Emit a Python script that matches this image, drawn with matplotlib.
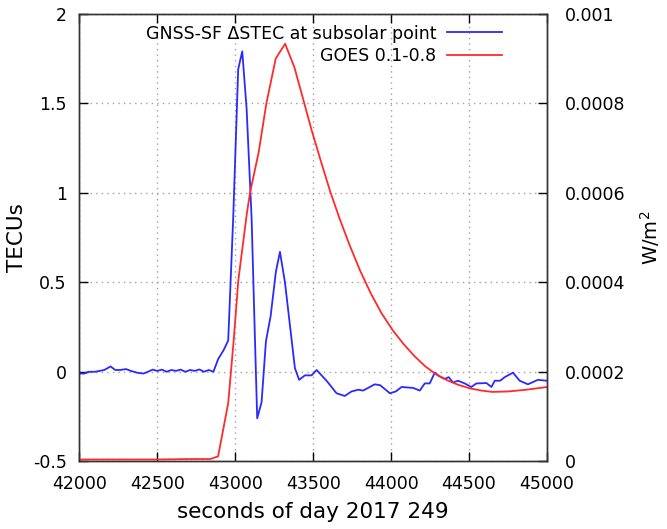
import matplotlib
matplotlib.use("Agg")
import matplotlib.pyplot as plt

# GNSS-SF delta STEC at the subsolar point (TECU)
stec_t = [42000, 42030, 42060, 42100, 42130, 42160, 42200, 42230, 42260, 42300,
          42330, 42370, 42410, 42440, 42470, 42500, 42530, 42560, 42590, 42620,
          42650, 42680, 42710, 42740, 42770, 42800, 42830, 42860, 42890, 42925,
          42955, 42987, 43019, 43045, 43073, 43105, 43126, 43141, 43169, 43197,
          43227, 43261, 43287, 43319, 43383, 43410, 43447, 43490, 43522, 43586,
          43650, 43703, 43746, 43790, 43820, 43853, 43895, 43930, 43992, 44030,
          44067, 44141, 44184, 44216, 44248, 44280, 44310, 44344, 44370, 44397,
          44430, 44472, 44515, 44547, 44612, 44644, 44665, 44700, 44729, 44782,
          44825, 44878, 44942, 45000]
stec_v = [-0.01, -0.01, 0.0, 0.0, 0.005, 0.01, 0.03, 0.01, 0.01, 0.015,
          0.005, -0.005, -0.01, 0.0, 0.012, 0.005, 0.012, 0.0, 0.01, 0.005,
          0.012, 0.0, 0.01, 0.005, 0.013, 0.0, 0.01, 0.0, 0.07, 0.12,
          0.175, 0.86, 1.69, 1.79, 1.47, 0.86, 0.2, -0.26, -0.17, 0.17,
          0.31, 0.56, 0.67, 0.50, 0.02, -0.045, -0.02, -0.02, 0.01, -0.05,
          -0.12, -0.135, -0.11, -0.1, -0.105, -0.09, -0.07, -0.075, -0.12, -0.11,
          -0.085, -0.09, -0.105, -0.065, -0.065, -0.005, -0.025, -0.04, -0.03, -0.06,
          -0.05, -0.065, -0.085, -0.065, -0.063, -0.085, -0.05, -0.05, -0.03, -0.005,
          -0.05, -0.07, -0.045, -0.05]

# GOES X-ray flux 0.1-0.8 nm (W/m^2)
goes_t = [42000, 42500, 42700, 42840, 42890, 42955, 42990, 43020, 43075, 43095,
          43150, 43200, 43260, 43320, 43380, 43425, 43490, 43550, 43610, 43670,
          43735, 43800, 43870, 43940, 44010, 44080, 44150, 44220, 44290, 44360,
          44430, 44505, 44580, 44650, 44750, 44870, 45000]
goes_w = [4e-6, 4e-6, 5e-6, 5e-6, 1.1e-5, 1.3e-4, 2.7e-4, 4.05e-4, 5.55e-4, 6.0e-4,
          6.9e-4, 8.0e-4, 9.0e-4, 9.33e-4, 8.8e-4, 8.23e-4, 7.4e-4, 6.7e-4, 6.02e-4, 5.42e-4,
          4.82e-4, 4.27e-4, 3.75e-4, 3.3e-4, 2.93e-4, 2.62e-4, 2.35e-4, 2.12e-4, 1.94e-4, 1.81e-4,
          1.71e-4, 1.63e-4, 1.58e-4, 1.55e-4, 1.56e-4, 1.6e-4, 1.66e-4]

xticks = [42000, 42500, 43000, 43500, 44000, 44500, 45000]
yticks = [-0.5, 0, 0.5, 1, 1.5, 2]
y2ticks = [0, 0.0002, 0.0004, 0.0006, 0.0008, 0.001]

plt.rcParams['font.family'] = 'DejaVu Sans'
plt.rcParams['font.size'] = 12.5

fig = plt.figure(figsize=(6.67, 5.29), dpi=100)
ax = fig.add_axes([0.119, 0.128, 0.701, 0.846])
ax2 = ax.twinx()

l1, = ax.plot(stec_t, stec_v, color='#2a2aff', lw=1.3, label='GNSS-SF ΔSTEC at subsolar point')
l2, = ax2.plot(goes_t, goes_w, color='#ff2a2a', lw=1.3, label='GOES 0.1-0.8')

ax.set_xlim(42000, 45000)
ax.set_ylim(-0.5, 2)
ax2.set_ylim(0, 0.001)
ax.set_xticks(xticks)
ax.set_yticks(yticks)
ax.set_yticklabels(['-0.5', '0', '0.5', '1', '1.5', '2'])
ax2.set_yticks(y2ticks)
ax2.set_yticklabels(['0', '0.0002', '0.0004', '0.0006', '0.0008', '0.001'])

ax.grid(True, color='#a0a0a0', linestyle=(0, (1, 3)), linewidth=1.0)
ax.tick_params(axis='x', direction='in', length=6.5, width=1, top=True, pad=10)
ax.tick_params(axis='y', direction='in', length=6.5, width=1, right=False, pad=9)
ax2.tick_params(axis='y', direction='in', length=6.5, width=1, pad=13)
for a in (ax, ax2):
    for s in a.spines.values():
        s.set_linewidth(1.0)
        s.set_color('#333333')

ax.set_xlabel('seconds of day 2017 249', fontsize=15.5, labelpad=6)
ax.set_ylabel('TECUs', fontsize=15.5, labelpad=4)
ax2.set_ylabel('W/m$^2$', fontsize=14, labelpad=9)

ax2.legend(handles=[l1, l2], loc='upper right', bbox_to_anchor=(0.93, 1.003),
           frameon=False, markerfirst=False, handlelength=3.2, handletextpad=0.6,
           labelspacing=0.25, fontsize=12.5, borderaxespad=0.3)

fig.savefig('out.png', dpi=100)
